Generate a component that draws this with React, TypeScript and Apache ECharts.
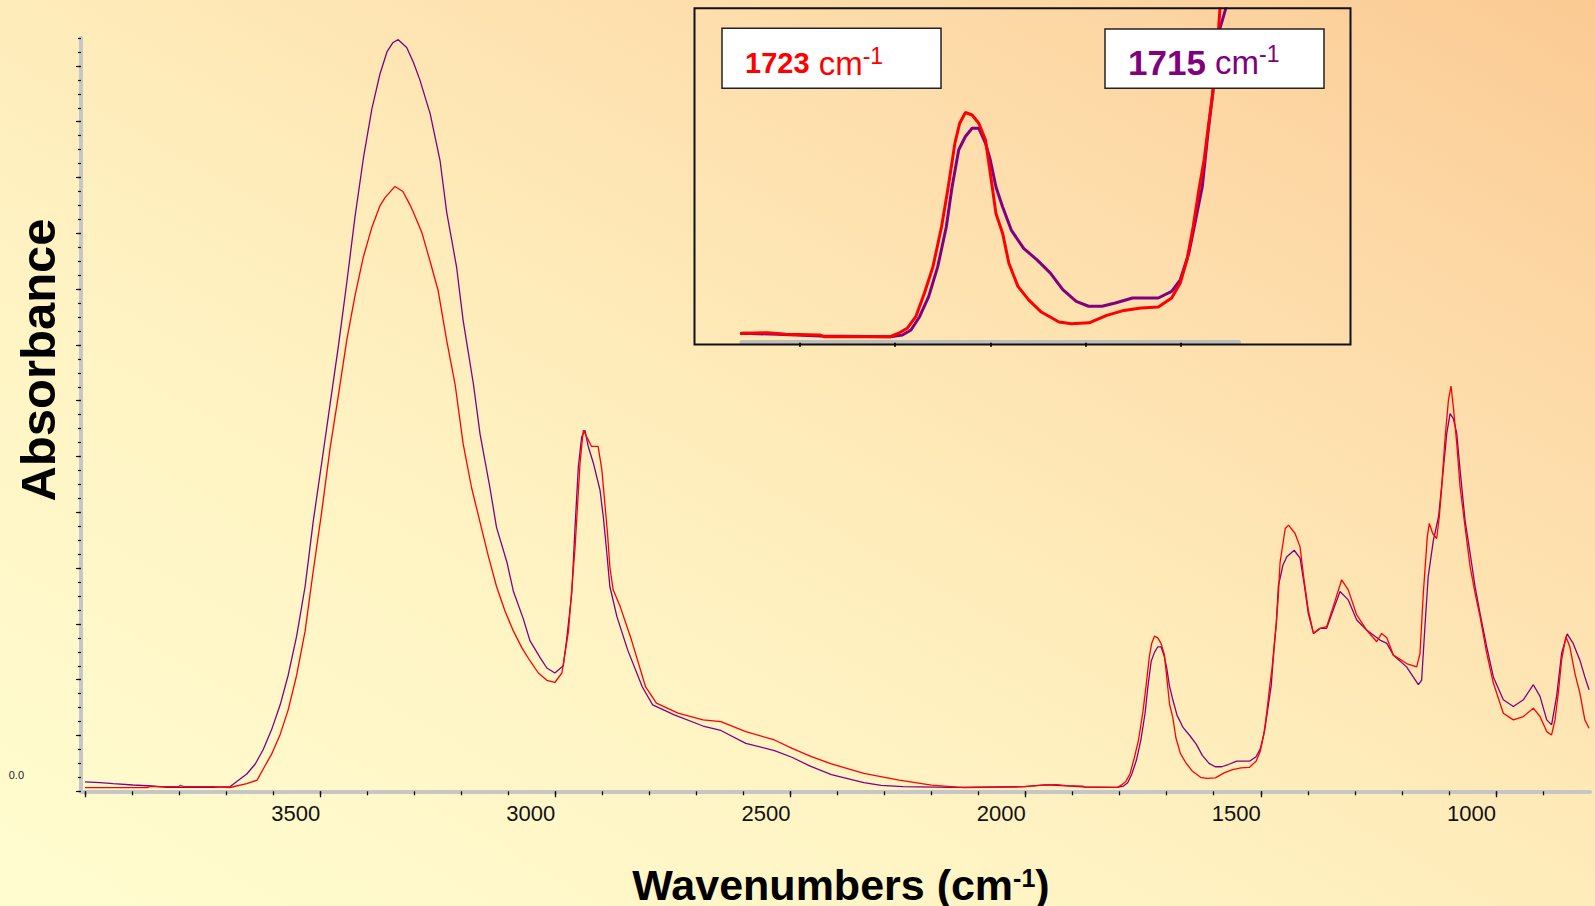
import React, { useEffect, useRef } from "react";
import * as echarts from "echarts";

// Spectrum with the carbonyl band at 1715 cm-1 (purple)
const purpleSpectrum: [number, number][] = [
  [4000, 0.017], [3968, 0.0154], [3940, 0.0136], [3898, 0.0113], [3857, 0.0095], [3826, 0.0072],
  [3728, 0.0072], [3692, 0.0082], [3656, 0.031], [3638, 0.049], [3621, 0.075], [3603, 0.111],
  [3585, 0.155], [3568, 0.208], [3550, 0.278], [3532, 0.367], [3515, 0.482], [3497, 0.587],
  [3479, 0.693], [3461, 0.799], [3443, 0.914], [3426, 1.029], [3408, 1.135], [3390, 1.223],
  [3373, 1.285], [3358, 1.325], [3345, 1.342], [3334, 1.347], [3316, 1.333], [3302, 1.307],
  [3288, 1.275], [3266, 1.214], [3245, 1.13], [3231, 1.038], [3210, 0.94], [3196, 0.844],
  [3174, 0.729], [3160, 0.64], [3139, 0.544], [3125, 0.473], [3103, 0.411], [3089, 0.358],
  [3068, 0.309], [3054, 0.27], [3032, 0.239], [3018, 0.221], [3001, 0.212], [2983, 0.225],
  [2976, 0.271], [2965, 0.355], [2958, 0.474], [2951, 0.582], [2944, 0.635], [2937, 0.647],
  [2930, 0.618], [2919, 0.588], [2905, 0.54], [2898, 0.492], [2891, 0.432], [2884, 0.367],
  [2869, 0.313], [2846, 0.253], [2815, 0.187], [2793, 0.155], [2747, 0.137], [2686, 0.117],
  [2648, 0.109], [2595, 0.086], [2534, 0.073], [2497, 0.061], [2458, 0.045], [2413, 0.03],
  [2344, 0.0154], [2307, 0.0108], [2261, 0.0082], [2155, 0.0072], [2003, 0.0082],
  [1958, 0.0114], [1923, 0.0101], [1878, 0.008], [1805, 0.0072], [1792, 0.0093], [1783, 0.0153],
  [1774, 0.0314], [1764.5, 0.0556], [1755, 0.0918], [1746, 0.14], [1740, 0.188], [1733, 0.233],
  [1726, 0.249], [1719, 0.259], [1712, 0.259], [1705, 0.241], [1700, 0.221], [1694, 0.188],
  [1687, 0.164], [1678, 0.136], [1665, 0.114], [1651, 0.1], [1637, 0.084], [1624, 0.064],
  [1610, 0.05], [1597, 0.044], [1583, 0.044], [1569, 0.048], [1551, 0.054], [1524, 0.054],
  [1510, 0.062], [1501, 0.076], [1492, 0.108], [1485, 0.148], [1478, 0.188], [1472, 0.253],
  [1467, 0.301], [1462.5, 0.369], [1458, 0.385], [1453, 0.405], [1445, 0.42], [1429, 0.432],
  [1416.5, 0.418], [1408, 0.373], [1399, 0.319], [1388, 0.283], [1374, 0.292], [1360, 0.292],
  [1346, 0.325], [1331.5, 0.358], [1314, 0.343], [1296, 0.307], [1275, 0.289], [1246.5, 0.271],
  [1232, 0.265], [1218, 0.244], [1190, 0.223], [1165, 0.191], [1158, 0.199], [1151, 0.295],
  [1144, 0.385], [1133, 0.45], [1122, 0.492], [1112, 0.576], [1104.5, 0.642], [1097.5, 0.677],
  [1090.6, 0.668], [1083.4, 0.642], [1076.3, 0.576], [1065.7, 0.486], [1055, 0.427], [1044.4, 0.367],
  [1033.8, 0.319], [1019.6, 0.259], [1005.5, 0.205], [984.3, 0.164], [963, 0.152], [941.7, 0.164],
  [920.5, 0.191], [906.3, 0.17], [892, 0.128], [881.7, 0.119], [871, 0.17], [860.4, 0.247],
  [848.5, 0.282], [835.8, 0.265], [821.5, 0.235], [811, 0.205], [802, 0.182],
];

// Spectrum with the carbonyl band at 1723 cm-1 (red)
const redSpectrum: [number, number][] = [
  [4000, 0.0065], [3868, 0.0065], [3862, 0.0082], [3800, 0.0082], [3798, 0.0105], [3790, 0.0082],
  [3728, 0.0082], [3692, 0.0068], [3656, 0.0136], [3634, 0.02], [3621, 0.04], [3603, 0.067],
  [3585, 0.102], [3568, 0.146], [3550, 0.208], [3532, 0.287], [3515, 0.393], [3497, 0.499],
  [3479, 0.614], [3461, 0.711], [3443.5, 0.808], [3426, 0.888], [3408, 0.958], [3390, 1.011],
  [3373, 1.049], [3362, 1.064], [3341, 1.084], [3324, 1.075], [3309, 1.051], [3302, 1.038],
  [3284, 1.002], [3266, 0.949], [3249, 0.897], [3231, 0.808], [3213, 0.729], [3196, 0.623],
  [3178, 0.544], [3160, 0.482], [3142, 0.42], [3125, 0.367], [3107, 0.323], [3089, 0.287],
  [3071, 0.257], [3054, 0.234], [3036, 0.212], [3018, 0.199], [3001, 0.195], [2986, 0.212],
  [2972, 0.287], [2958, 0.437], [2947.5, 0.587], [2940.5, 0.647], [2933, 0.635], [2923, 0.618],
  [2909, 0.618], [2901, 0.576], [2894, 0.51], [2889, 0.462], [2884, 0.402], [2877, 0.361],
  [2862, 0.331], [2838, 0.271], [2808, 0.187], [2785, 0.158], [2739, 0.14], [2686, 0.128],
  [2648, 0.125], [2595, 0.107], [2534, 0.092], [2496.5, 0.077], [2458, 0.063], [2413, 0.049],
  [2344, 0.032], [2269, 0.02], [2200, 0.011], [2132, 0.0065], [2003, 0.0082],
  [1958, 0.0114], [1933, 0.0121], [1914, 0.0101], [1878, 0.0093], [1874, 0.0072], [1805, 0.0072],
  [1796, 0.0114], [1787, 0.0174], [1778, 0.0314], [1769, 0.0597], [1760, 0.0918], [1751, 0.14],
  [1744, 0.188], [1737, 0.241], [1732, 0.265], [1726, 0.278], [1719, 0.275], [1712, 0.265],
  [1705, 0.245], [1700, 0.205], [1694, 0.156], [1687, 0.132], [1680.5, 0.096], [1671, 0.068],
  [1660, 0.052], [1646.5, 0.037], [1628, 0.025], [1615, 0.023], [1596.5, 0.024], [1578, 0.033],
  [1560, 0.039], [1542, 0.042], [1524, 0.043], [1510, 0.054], [1501, 0.072], [1494, 0.1],
  [1487.5, 0.14], [1481, 0.188], [1476, 0.221], [1471.6, 0.261], [1467, 0.301], [1462.5, 0.353],
  [1459, 0.41], [1448, 0.471], [1441, 0.477], [1427, 0.462], [1416.5, 0.438], [1408, 0.379],
  [1399, 0.325], [1388, 0.283], [1374, 0.292], [1360, 0.295], [1346, 0.331], [1328, 0.379],
  [1314, 0.361], [1296, 0.316], [1275, 0.289], [1253.5, 0.268], [1243, 0.283], [1232, 0.275],
  [1218, 0.244], [1190, 0.229], [1168.5, 0.223], [1161.5, 0.247], [1154.4, 0.355], [1146, 0.456],
  [1141.6, 0.48], [1134.4, 0.462], [1126, 0.453], [1120.4, 0.492], [1115.3, 0.546], [1108, 0.635],
  [1101, 0.701], [1095.5, 0.726], [1090.6, 0.689], [1083.4, 0.624], [1076.3, 0.546], [1065.7, 0.474],
  [1055, 0.403], [1044.4, 0.355], [1033.8, 0.313], [1019.6, 0.247], [1005.5, 0.194], [984.3, 0.14],
  [963, 0.128], [941.7, 0.134], [920.5, 0.149], [906.3, 0.134], [892, 0.107], [881.7, 0.101],
  [874.4, 0.128], [867.4, 0.176], [860.4, 0.235], [851.2, 0.277], [842.8, 0.259], [832, 0.211],
  [821.5, 0.176], [811, 0.128], [802, 0.113],
];

const xMajorTicks = [1000, 1500, 2000, 2500, 3000, 3500, 4000];
const xTickLabels = [1000, 1500, 2000, 2500, 3000, 3500];
const xMinorTicks = Array.from({ length: 32 }, (_, i) => 900 + i * 100);
const yMajorTicks = [0, 0.1, 0.2, 0.3, 0.4, 0.5, 0.6, 0.7, 0.8, 0.9, 1.0, 1.1, 1.2, 1.3];
const yMinorTicks = Array.from({ length: 55 }, (_, i) => +(i * 0.025).toFixed(3));
const yTickLabels = [0];
const insetTicks = [1900, 1800, 1700, 1600, 1500];

const PURPLE = "#800080";
const RED = "#ff0000";
const FONT = '"Liberation Sans", Arial, Helvetica, sans-serif';

export default function App() {
  const ref = useRef<HTMLDivElement>(null);

  useEffect(() => {
    if (!ref.current) return;
    const chart = echarts.init(ref.current, undefined, { renderer: "svg" });

    const baseX = {
      type: "value" as const,
      gridIndex: 0,
      min: 800,
      max: 4008.5,
      inverse: true,
      position: "bottom" as const,
      splitLine: { show: false },
    };
    const baseY = {
      type: "value" as const,
      gridIndex: 0,
      min: 0,
      max: 1.35,
      position: "left" as const,
      splitLine: { show: false },
    };

    chart.setOption({
      animation: false,
      backgroundColor: "transparent",
      textStyle: { fontFamily: FONT },
      grid: [
        { left: 81, right: 5, top: 38, bottom: 114.7, outerBoundsMode: "none", containLabel: false },
        { left: 742, right: 356.5, top: 9, bottom: 563.3, outerBoundsMode: "none", containLabel: false },
      ],
      xAxis: [
        {
          ...baseX,
          axisLine: { show: true, lineStyle: { color: "#c6c6c6", width: 4 } },
          axisTick: { show: true, customValues: xMinorTicks, length: 4, lineStyle: { color: "#111", width: 1.3 } },
          axisLabel: { show: false },
        },
        {
          ...baseX,
          axisLine: { show: false },
          axisTick: { show: true, customValues: xMajorTicks, length: 6, lineStyle: { color: "#111", width: 1.3 } },
          axisLabel: {
            show: true,
            customValues: xTickLabels,
            formatter: (v: number) => String(Math.round(v)),
            align: "right",
            margin: 11,
            fontSize: 22,
            color: "#111",
            fontFamily: FONT,
          },
          name: "{a|Wavenumbers (cm}{s|-1}{a|)}",
          nameLocation: "middle",
          nameGap: 74,
          nameTextStyle: {
            padding: [0, 0, 0, 11],
            rich: {
              a: { fontSize: 43, fontWeight: "bold", fontFamily: FONT, color: "#000", lineHeight: 40 },
              s: { fontSize: 25, fontWeight: "bold", fontFamily: FONT, color: "#000", lineHeight: 22, verticalAlign: "top" },
            },
          },
        },
        {
          type: "value",
          gridIndex: 1,
          min: 1440,
          max: 1960,
          inverse: true,
          splitLine: { show: false },
          axisLine: { show: true, lineStyle: { color: "#bdbdbd", width: 5 } },
          axisTick: { show: true, customValues: insetTicks, length: 4, lineStyle: { color: "#111", width: 2 } },
          axisLabel: { show: false },
        },
      ],
      yAxis: [
        {
          ...baseY,
          axisLine: { show: true, lineStyle: { color: "#c6c6c6", width: 4 } },
          axisTick: { show: true, customValues: yMinorTicks, length: 3, lineStyle: { color: "#111", width: 1.2 } },
          axisLabel: { show: false },
        },
        {
          ...baseY,
          axisLine: { show: false },
          axisTick: { show: true, customValues: yMajorTicks, length: 5, lineStyle: { color: "#111", width: 1.2 } },
          axisLabel: {
            show: true,
            customValues: yTickLabels,
            formatter: (v: number) => "{v|" + v.toFixed(1) + "}",
            margin: 57,
            rich: {
              v: { fontSize: 11, color: "#222", fontFamily: FONT, padding: [0, 0, 32, 0] },
            },
          },
        },
        {
          type: "value",
          gridIndex: 1,
          min: 0,
          max: 0.403,
          show: false,
          splitLine: { show: false },
        },
      ],
      series: [
        {
          name: "1715",
          type: "line",
          xAxisIndex: 0,
          yAxisIndex: 0,
          data: purpleSpectrum,
          showSymbol: false,
          lineStyle: { color: PURPLE, width: 1.3 },
          z: 2,
        },
        {
          name: "1723",
          type: "line",
          xAxisIndex: 0,
          yAxisIndex: 0,
          data: redSpectrum,
          showSymbol: false,
          lineStyle: { color: RED, width: 1.3 },
          z: 3,
        },
        {
          name: "1715 inset",
          type: "line",
          xAxisIndex: 2,
          yAxisIndex: 2,
          data: purpleSpectrum,
          showSymbol: false,
          clip: true,
          lineStyle: { color: PURPLE, width: 3 },
          z: 2,
        },
        {
          name: "1723 inset",
          type: "line",
          xAxisIndex: 2,
          yAxisIndex: 2,
          data: redSpectrum,
          showSymbol: false,
          clip: true,
          lineStyle: { color: RED, width: 3 },
          z: 3,
        },
      ],
      graphic: [
        {
          type: "rect",
          z: 10,
          shape: { x: 694.5, y: 8.2, width: 656, height: 336.3 },
          style: { fill: "none", stroke: "#111", lineWidth: 2 },
        },
        {
          type: "rect",
          z: 10,
          shape: { x: 722, y: 28.3, width: 219, height: 60 },
          style: { fill: "#ffffff", stroke: "#222", lineWidth: 1.5 },
        },
        {
          type: "rect",
          z: 10,
          shape: { x: 1105, y: 29, width: 219, height: 59.3 },
          style: { fill: "#ffffff", stroke: "#222", lineWidth: 1.5 },
        },
        {
          type: "text",
          z: 11,
          x: 745,
          y: 63,
          style: {
            text: "{b|1723}{n| cm}{s|-1}",
            verticalAlign: "middle",
            align: "left",
            rich: {
              b: { fontSize: 29, fontWeight: "bold", fontFamily: FONT, fill: RED, lineHeight: 38 },
              n: { fontSize: 33, fontFamily: FONT, fill: RED, lineHeight: 38 },
              s: { fontSize: 23, fontFamily: FONT, fill: RED, lineHeight: 22, verticalAlign: "top" },
            },
          },
        },
        {
          type: "text",
          z: 11,
          x: 1128,
          y: 62,
          style: {
            text: "{b|1715}{n| cm}{s|-1}",
            verticalAlign: "middle",
            align: "left",
            rich: {
              b: { fontSize: 35, fontWeight: "bold", fontFamily: FONT, fill: PURPLE, lineHeight: 40 },
              n: { fontSize: 33, fontFamily: FONT, fill: PURPLE, lineHeight: 40 },
              s: { fontSize: 23, fontFamily: FONT, fill: PURPLE, lineHeight: 24, verticalAlign: "top" },
            },
          },
        },
        {
          type: "text",
          z: 11,
          x: 38,
          y: 360,
          rotation: Math.PI / 2,
          style: {
            text: "Absorbance",
            fontSize: 49,
            fontWeight: "bold",
            fontFamily: FONT,
            fill: "#000",
            align: "center",
            verticalAlign: "middle",
          },
        },
      ],
    });

    return () => chart.dispose();
  }, []);

  return (
    <div
      style={{
        position: "fixed",
        left: 0,
        top: 0,
        width: 1595,
        height: 906,
        background: "linear-gradient(to top right, #fffdd0 0%, #fff3c3 35%, #feecba 50%, #fddaa8 78%, #fbca93 100%)",
      }}
    >
      <div ref={ref} style={{ width: 1595, height: 906 }} />
    </div>
  );
}
